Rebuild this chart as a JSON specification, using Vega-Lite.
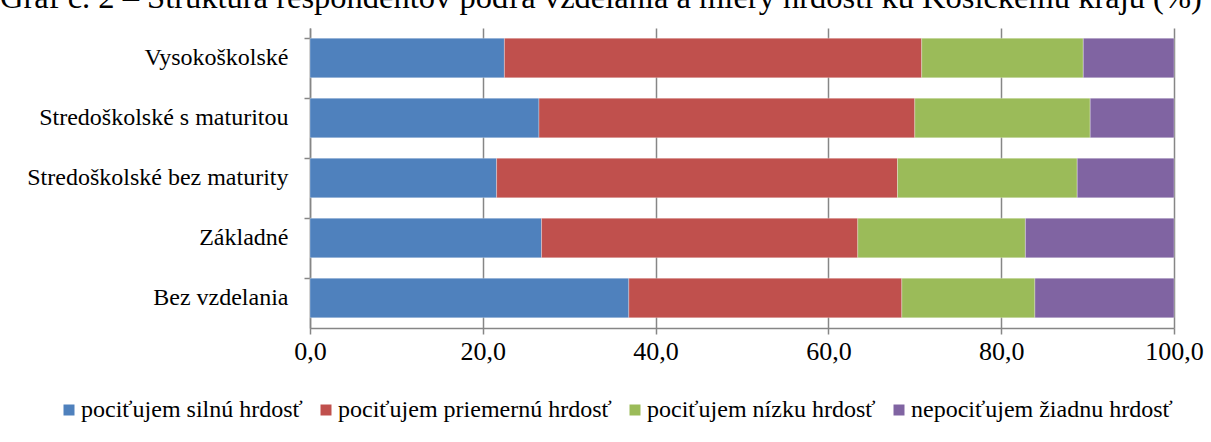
{
  "$schema": "https://vega.github.io/schema/vega-lite/v6.json",
  "width": 864,
  "height": 300,
  "autosize": {"type": "none"},
  "padding": {"left": 310, "top": 28, "right": 37, "bottom": 114},
  "title": {
    "text": "Graf č. 2 – Štruktúra respondentov podľa vzdelania a miery hrdosti ku Košickému kraju (%)",
    "anchor": "start",
    "frame": "group",
    "dx": -310,
    "offset": 14,
    "font": "Liberation Serif",
    "fontSize": 32.5,
    "fontWeight": "normal",
    "color": "black"
  },
  "data": {
    "values": [
      {"vzdelanie": "Vysokoškolské", "kategoria": "pociťujem silnú hrdosť", "poradie": 1, "hodnota": 22.5},
      {"vzdelanie": "Vysokoškolské", "kategoria": "pociťujem priemernú hrdosť", "poradie": 2, "hodnota": 48.3},
      {"vzdelanie": "Vysokoškolské", "kategoria": "pociťujem nízku hrdosť", "poradie": 3, "hodnota": 18.7},
      {"vzdelanie": "Vysokoškolské", "kategoria": "nepociťujem žiadnu hrdosť", "poradie": 4, "hodnota": 10.5},
      {"vzdelanie": "Stredoškolské s maturitou", "kategoria": "pociťujem silnú hrdosť", "poradie": 1, "hodnota": 26.5},
      {"vzdelanie": "Stredoškolské s maturitou", "kategoria": "pociťujem priemernú hrdosť", "poradie": 2, "hodnota": 43.5},
      {"vzdelanie": "Stredoškolské s maturitou", "kategoria": "pociťujem nízku hrdosť", "poradie": 3, "hodnota": 20.3},
      {"vzdelanie": "Stredoškolské s maturitou", "kategoria": "nepociťujem žiadnu hrdosť", "poradie": 4, "hodnota": 9.7},
      {"vzdelanie": "Stredoškolské bez maturity", "kategoria": "pociťujem silnú hrdosť", "poradie": 1, "hodnota": 21.6},
      {"vzdelanie": "Stredoškolské bez maturity", "kategoria": "pociťujem priemernú hrdosť", "poradie": 2, "hodnota": 46.4},
      {"vzdelanie": "Stredoškolské bez maturity", "kategoria": "pociťujem nízku hrdosť", "poradie": 3, "hodnota": 20.8},
      {"vzdelanie": "Stredoškolské bez maturity", "kategoria": "nepociťujem žiadnu hrdosť", "poradie": 4, "hodnota": 11.2},
      {"vzdelanie": "Základné", "kategoria": "pociťujem silnú hrdosť", "poradie": 1, "hodnota": 26.8},
      {"vzdelanie": "Základné", "kategoria": "pociťujem priemernú hrdosť", "poradie": 2, "hodnota": 36.6},
      {"vzdelanie": "Základné", "kategoria": "pociťujem nízku hrdosť", "poradie": 3, "hodnota": 19.4},
      {"vzdelanie": "Základné", "kategoria": "nepociťujem žiadnu hrdosť", "poradie": 4, "hodnota": 17.2},
      {"vzdelanie": "Bez vzdelania", "kategoria": "pociťujem silnú hrdosť", "poradie": 1, "hodnota": 36.9},
      {"vzdelanie": "Bez vzdelania", "kategoria": "pociťujem priemernú hrdosť", "poradie": 2, "hodnota": 31.6},
      {"vzdelanie": "Bez vzdelania", "kategoria": "pociťujem nízku hrdosť", "poradie": 3, "hodnota": 15.4},
      {"vzdelanie": "Bez vzdelania", "kategoria": "nepociťujem žiadnu hrdosť", "poradie": 4, "hodnota": 16.1}
    ]
  },
  "mark": {"type": "bar", "stroke": "white", "strokeWidth": 0.6, "strokeOpacity": 0.5},
  "encoding": {
    "y": {
      "field": "vzdelanie",
      "type": "nominal",
      "sort": ["Vysokoškolské", "Stredoškolské s maturitou", "Stredoškolské bez maturity", "Základné", "Bez vzdelania"],
      "scale": {"paddingInner": 0.34, "paddingOuter": 0.17},
      "axis": {
        "title": null,
        "labelFont": "Liberation Serif",
        "labelFontSize": 24,
        "labelColor": "black",
        "labelLimit": 400,
        "tickSize": 6,
        "labelPadding": 16,
        "domainColor": "#868686",
        "tickColor": "#868686",
        "bandPosition": 0,
        "grid": false
      }
    },
    "x": {
      "field": "hodnota",
      "type": "quantitative",
      "stack": "zero",
      "scale": {"domain": [0, 100], "nice": false},
      "axis": {
        "title": null,
        "values": [0, 20, 40, 60, 80, 100],
        "labelExpr": "replace(format(datum.value, '.1f'), '.', ',')",
        "labelFont": "Liberation Serif",
        "labelFontSize": 26,
        "labelColor": "black",
        "labelFlush": false,
        "tickSize": 6,
        "tickColor": "#868686",
        "domainColor": "#868686",
        "grid": true,
        "gridColor": "#868686",
        "gridWidth": 1.5,
        "labelPadding": 4
      }
    },
    "order": {"field": "poradie", "type": "quantitative", "sort": "ascending"},
    "color": {
      "field": "kategoria",
      "type": "nominal",
      "scale": {
        "domain": ["pociťujem silnú hrdosť", "pociťujem priemernú hrdosť", "pociťujem nízku hrdosť", "nepociťujem žiadnu hrdosť"],
        "range": ["#4F81BD", "#C0504D", "#9BBB59", "#8064A2"]
      },
      "legend": {
        "title": null,
        "orient": "none",
        "legendX": -253,
        "legendY": 370,
        "direction": "horizontal",
        "columns": 4,
        "symbolType": "square",
        "symbolSize": 121,
        "symbolStrokeWidth": 0,
        "labelFont": "Liberation Serif",
        "labelFontSize": 24,
        "labelColor": "black",
        "labelOffset": 0,
        "columnPadding": 11,
        "labelLimit": 400
      }
    }
  },
  "config": {
    "font": "Liberation Serif",
    "view": {"stroke": null},
    "axis": {"domainWidth": 1.5, "tickWidth": 1.5}
  }
}
